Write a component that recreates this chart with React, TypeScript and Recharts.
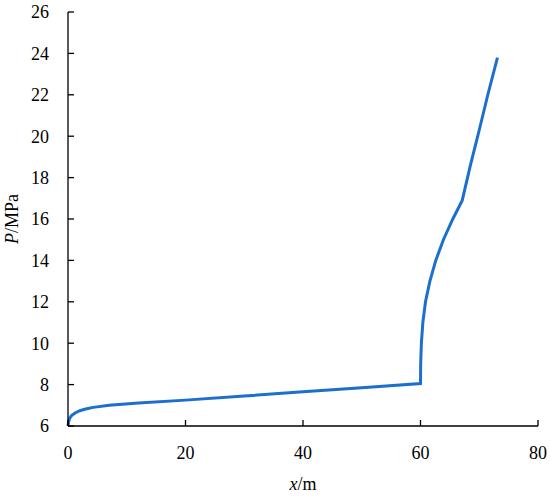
import { LineChart, Line, XAxis, YAxis } from "recharts";

// distance along x (m) and pressure (MPa)
const xValues = [
  0, 0.1, 0.3, 0.6, 1.2, 2, 3, 4.3, 7, 12, 20, 30, 40, 50, 60,
  60.03, 60.15, 60.4, 60.85, 61.6, 62.6, 63.9, 65.5, 67.1,
  68.5, 70, 71.5, 73.1,
];
const pValues = [
  6.0, 6.2, 6.38, 6.5, 6.63, 6.74, 6.82, 6.9, 7.0, 7.11, 7.25, 7.45, 7.65, 7.85, 8.05,
  9, 10, 11, 12, 13, 14, 15, 16, 16.9,
  18.6, 20.3, 22.05, 23.8,
];
const xTicks = [0, 20, 40, 60, 80];
const yTicks = [6, 8, 10, 12, 14, 16, 18, 20, 22, 24, 26];

const rows = xValues.map((x, i) => ({ x, p: pValues[i] }));

const FONT = "'Liberation Serif', 'Times New Roman', serif";

function YLabel(props: any) {
  const vb = props.viewBox;
  const cy = vb.y + vb.height / 2;
  return (
    <text
      x={18}
      y={cy}
      transform={`rotate(-90, 18, ${cy})`}
      textAnchor="middle"
      fontFamily={FONT}
      fontSize={18}
      fill="#000"
    >
      <tspan fontStyle="italic">P</tspan>/MPa
    </text>
  );
}

function XLabel(props: any) {
  const vb = props.viewBox;
  return (
    <text
      x={vb.x + vb.width / 2}
      y={490}
      textAnchor="middle"
      fontFamily={FONT}
      fontSize={18}
      fill="#000"
    >
      <tspan fontStyle="italic">x</tspan>/m
    </text>
  );
}

export default function App() {
  const tickStyle = { fontFamily: FONT, fontSize: 18, fill: "#000" };
  return (
    <div style={{ position: "absolute", left: 0, top: 0, background: "#fff" }}>
      <LineChart
        width={550}
        height={496}
        data={rows}
        margin={{ top: 12, right: 12, left: 0, bottom: 0 }}
      >
        <XAxis
          dataKey="x"
          type="number"
          domain={[0, 80]}
          ticks={xTicks}
          height={70}
          tick={tickStyle}
          tickSize={-6}
          tickMargin={26}
          axisLine={{ stroke: "#000", strokeWidth: 1.3 }}
          tickLine={{ stroke: "#000", strokeWidth: 1.3 }}
          label={{ content: XLabel }}
        />
        <YAxis
          type="number"
          domain={[6, 26]}
          ticks={yTicks}
          width={68}
          tick={tickStyle}
          tickSize={-6}
          tickMargin={25}
          axisLine={{ stroke: "#000", strokeWidth: 1.3 }}
          tickLine={{ stroke: "#000", strokeWidth: 1.3 }}
          label={{ content: YLabel }}
        />
        <Line
          dataKey="p"
          type="linear"
          stroke="#1b6fce"
          strokeWidth={3}
          dot={false}
          isAnimationActive={false}
        />
      </LineChart>
    </div>
  );
}
